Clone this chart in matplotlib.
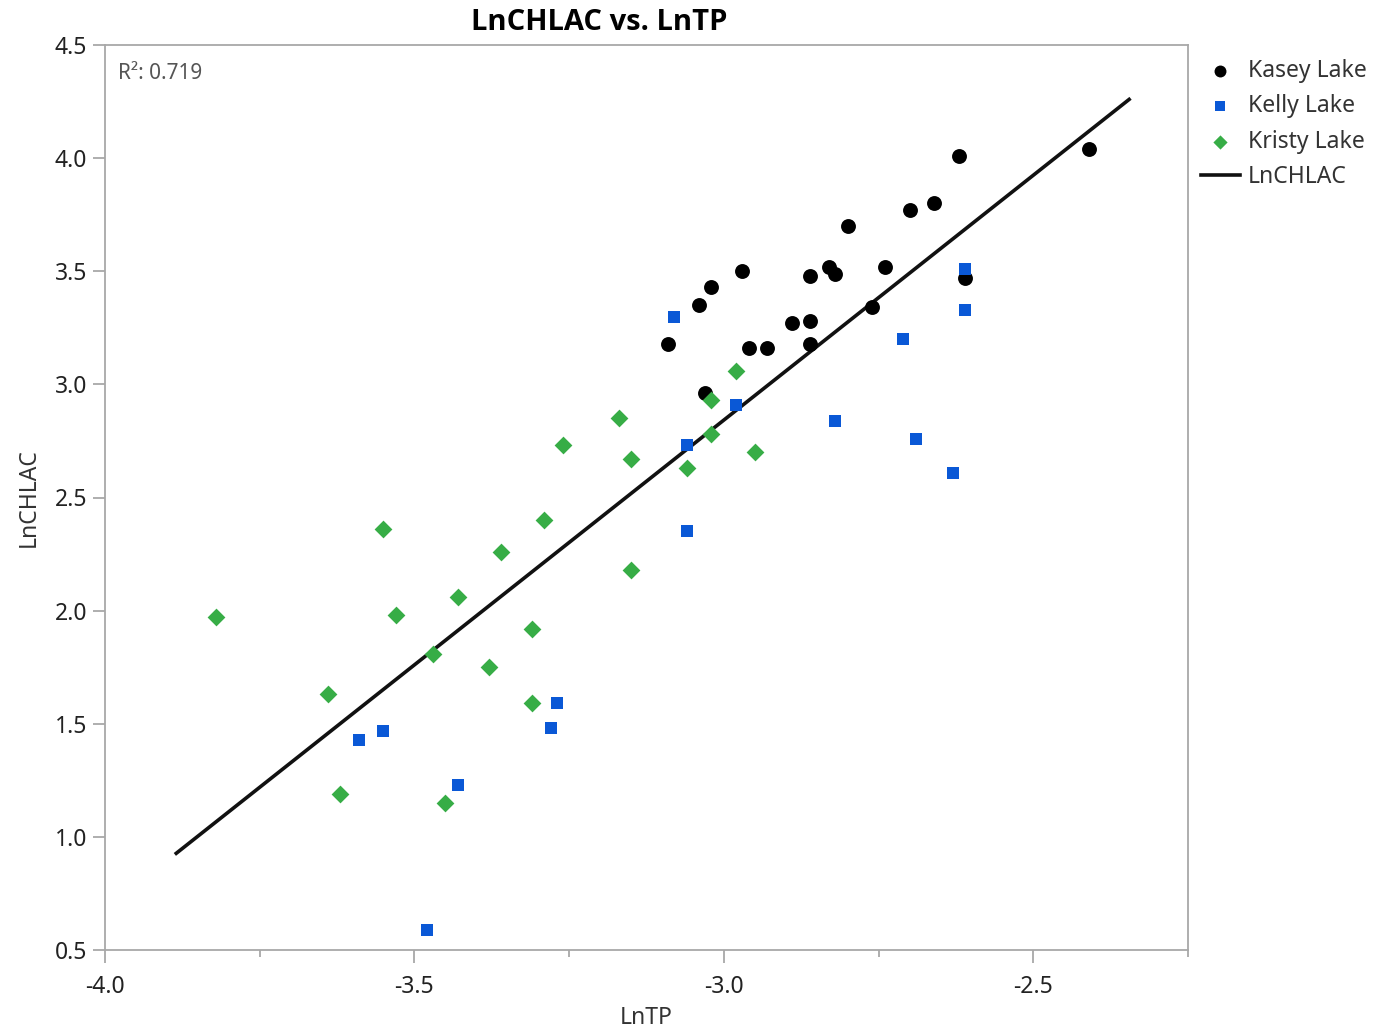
import matplotlib
matplotlib.use("Agg")
import matplotlib.pyplot as plt
import numpy as np

# values
kasey_tp = [-2.62, -2.66, -2.70, -2.80, -2.97, -2.83, -2.82, -2.86, -2.74, -2.61, -3.02,
            -3.04, -3.09, -2.89, -2.86, -2.76, -2.96, -2.93, -2.86, -3.03, -2.41]
kasey_chl = [4.01, 3.80, 3.77, 3.70, 3.50, 3.52, 3.49, 3.48, 3.52, 3.47, 3.43,
             3.35, 3.18, 3.27, 3.28, 3.34, 3.16, 3.16, 3.18, 2.96, 4.04]

kelly_tp = [-3.08, -2.61, -2.61, -2.71, -2.98, -2.82, -2.69, -2.63, -3.06, -3.06,
            -3.27, -3.28, -3.55, -3.59, -3.43, -3.48]
kelly_chl = [3.30, 3.51, 3.33, 3.20, 2.91, 2.84, 2.76, 2.61, 2.73, 2.35,
             1.59, 1.48, 1.47, 1.43, 1.23, 0.59]

kristy_tp = [-3.55, -3.29, -3.36, -3.15, -3.43, -3.82, -3.53, -3.31, -3.47, -3.38, -3.64,
             -3.31, -3.62, -3.45, -2.98, -3.02, -3.17, -3.26, -3.02, -3.15, -2.95, -3.06]
kristy_chl = [2.36, 2.40, 2.26, 2.18, 2.06, 1.97, 1.98, 1.92, 1.81, 1.75, 1.63,
              1.59, 1.19, 1.15, 3.06, 2.93, 2.85, 2.73, 2.78, 2.67, 2.70, 2.63]

r2_label = "R²: 0.719"

plt.rcParams["font.family"] = ["Noto Sans", "DejaVu Sans"]

fig = plt.figure(figsize=(13.76, 10.30), dpi=100)
ax = fig.add_axes([105 / 1376, 80 / 1030, (1188 - 105) / 1376, (950 - 45) / 1030])

ax.scatter(kasey_tp, kasey_chl, s=115, marker="o", color="black", linewidths=0,
           zorder=3, label="Kasey Lake")
ax.scatter(kelly_tp, kelly_chl, s=78, marker="s", color="#0a58d6", linewidths=0,
           zorder=3, label="Kelly Lake")
ax.scatter(kristy_tp, kristy_chl, s=82, marker="D", color="#37ad46", linewidths=0,
           zorder=3, label="Kristy Lake")

# overall linear fit
all_tp = np.array(kasey_tp + kelly_tp + kristy_tp)
all_chl = np.array(kasey_chl + kelly_chl + kristy_chl)
slope, icpt = np.polyfit(all_tp, all_chl, 1)
pad = 0.046 * (all_tp.max() - all_tp.min())
fx = np.array([all_tp.min() - pad, all_tp.max() + pad])
ax.plot(fx, icpt + slope * fx, color="#111111", lw=2.6, zorder=2, label="LnCHLAC")

ax.set_xlim(-4.0, -2.25)
ax.set_ylim(0.5, 4.5)
ax.set_xticks([-4.0, -3.5, -3.0, -2.5])
ax.set_xticks([-3.75, -3.25, -2.75, -2.25], minor=True)
ax.set_yticks(np.arange(0.5, 4.51, 0.5))
ax.xaxis.set_major_formatter(matplotlib.ticker.FormatStrFormatter("%.1f"))
ax.yaxis.set_major_formatter(matplotlib.ticker.FormatStrFormatter("%.1f"))

grey = "#a8a8a8"
for s in ax.spines.values():
    s.set_color(grey)
    s.set_linewidth(1.3)
ax.tick_params(axis="both", which="major", length=9, width=1.3, color=grey,
               labelsize=16.5, labelcolor="#222222", pad=4)
ax.tick_params(axis="x", which="major", pad=9)
ax.tick_params(axis="x", which="minor", length=5, width=1.3, color=grey)

ax.set_xlabel("LnTP", fontsize=16.5, color="#333333", labelpad=5)
ax.set_ylabel("LnCHLAC", fontsize=16.5, color="#333333", labelpad=10)

ax.text(0.012, 0.98, r2_label, transform=ax.transAxes, ha="left", va="top",
        fontsize=15, color="#555555")

fig.text(599 / 1376, 1 - 23 / 1030, "LnCHLAC vs. LnTP", ha="center", va="center",
         fontsize=21, fontweight="bold", color="black",
         family=["Open Sans", "DejaVu Sans"])

leg = ax.legend(loc="upper left", bbox_to_anchor=(0.999, 1.0), frameon=False,
                fontsize=16.5, handlelength=1.7, handletextpad=0.35,
                labelspacing=0.5, borderaxespad=0.2, markerscale=0.8)
for t in leg.get_texts():
    t.set_color("#333333")

fig.savefig("out.png", dpi=100, facecolor="white")
